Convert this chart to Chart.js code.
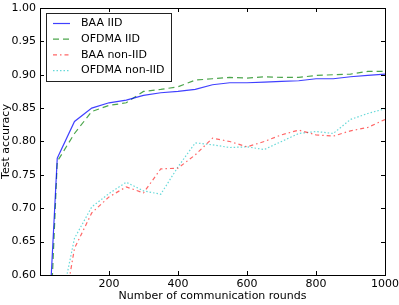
<!DOCTYPE html>
<html>
<head>
<meta charset="utf-8">
<script src="https://cdn.jsdelivr.net/npm/chart.js@4.4.1/dist/chart.umd.min.js"></script>
<style>
html, body { margin: 0; padding: 0; background: #fff; }
#wrap { width: 399px; height: 305px; }
</style>
</head>
<body>
<div id="wrap"><canvas id="acc"></canvas></div>
<script>
// communication rounds (x) and test accuracy per scheme
var rounds = [0, 50, 100, 150, 200, 250, 300, 350, 400, 450, 500, 550, 600, 650, 700, 750, 800, 850, 900, 950, 1000];
var baaIid = [0.27, 0.775, 0.83, 0.85, 0.858, 0.862, 0.869, 0.873, 0.875, 0.878, 0.885, 0.888, 0.888, 0.889, 0.890, 0.891, 0.894, 0.894, 0.897, 0.899, 0.901];
var ofdmaIid = [0.16, 0.77, 0.812, 0.845, 0.854, 0.858, 0.875, 0.878, 0.882, 0.892, 0.894, 0.896, 0.895, 0.897, 0.896, 0.896, 0.899, 0.900, 0.901, 0.905, 0.905];
var baaNonIid = [null, 0.49, 0.64, 0.693, 0.717, 0.732, 0.723, 0.759, 0.760, 0.780, 0.805, 0.800, 0.792, 0.800, 0.810, 0.817, 0.810, 0.808, 0.816, 0.821, 0.833];
var ofdmaNonIid = [null, 0.53, 0.655, 0.702, 0.722, 0.739, 0.726, 0.721, 0.762, 0.798, 0.795, 0.791, 0.792, 0.788, 0.800, 0.812, 0.815, 0.812, 0.833, 0.842, 0.849];
var xTicks = [200, 400, 600, 800, 1000];
var yTicks = [0.60, 0.65, 0.70, 0.75, 0.80, 0.85, 0.90, 0.95, 1.00];

var FONT = 'DejaVu Sans';

function pts(ys) {
    return rounds.map(function (r, i) { return { x: r, y: ys[i] }; });
}

var series = [
    { label: 'BAA IID', data: baaIid, color: 'rgba(0, 0, 255, 0.75)', dash: [] },
    { label: 'OFDMA IID', data: ofdmaIid, color: 'rgba(0, 128, 0, 0.7)', dash: [6, 4] },
    { label: 'BAA non-IID', data: baaNonIid, color: 'rgba(255, 0, 0, 0.6)', dash: [4, 3, 1.5, 3] },
    { label: 'OFDMA non-IID', data: ofdmaNonIid, color: 'rgba(0, 191, 191, 0.6)', dash: [1.5, 2] }
];

// frame, inward ticks on all sides, and the boxed legend (matplotlib classic look)
var mplLook = {
    id: 'mplLook',
    afterDraw: function (chart) {
        var ctx = chart.ctx;
        var a = chart.chartArea;
        var xs = chart.scales.x, ys = chart.scales.y;
        ctx.save();
        ctx.strokeStyle = '#000';
        ctx.lineWidth = 1;
        ctx.setLineDash([]);
        ctx.strokeRect(Math.round(a.left) + 0.5, Math.round(a.top) + 0.5,
            Math.round(a.right - a.left), Math.round(a.bottom - a.top));
        ctx.beginPath();
        xTicks.forEach(function (v) {
            var px = Math.round(xs.getPixelForValue(v)) + 0.5;
            ctx.moveTo(px, a.bottom); ctx.lineTo(px, a.bottom - 4);
            ctx.moveTo(px, a.top); ctx.lineTo(px, a.top + 4);
        });
        yTicks.forEach(function (v) {
            var py = Math.round(ys.getPixelForValue(v)) + 0.5;
            ctx.moveTo(a.left, py); ctx.lineTo(a.left + 4, py);
            ctx.moveTo(a.right, py); ctx.lineTo(a.right - 4, py);
        });
        ctx.stroke();

        // legend
        var lx = 46, ly = 13, lw = 125, lh = 68;
        ctx.fillStyle = '#fff';
        ctx.fillRect(lx, ly, lw, lh);
        ctx.strokeStyle = '#222';
        ctx.strokeRect(lx + 0.5, ly + 0.5, lw, lh);
        ctx.font = '11px "' + FONT + '"';
        ctx.textBaseline = 'middle';
        ctx.textAlign = 'left';
        series.forEach(function (s, i) {
            var y = 23.5 + i * 15.7;
            ctx.strokeStyle = s.color;
            ctx.lineWidth = 1.2;
            ctx.setLineDash(s.dash);
            ctx.beginPath();
            ctx.moveTo(53, y); ctx.lineTo(70, y);
            ctx.stroke();
            ctx.fillStyle = '#000';
            ctx.fillText(s.label, 81, y);
        });
        ctx.restore();
    }
};

var chart = new Chart(document.getElementById('acc').getContext('2d'), {
    type: 'line',
    data: {
        datasets: series.map(function (s) {
            return {
                label: s.label,
                data: pts(s.data),
                borderColor: s.color,
                backgroundColor: s.color,
                borderDash: s.dash,
                borderWidth: 1.2,
                pointRadius: 0,
                tension: 0,
                fill: false
            };
        })
    },
    options: {
        responsive: true,
        maintainAspectRatio: false,
        animation: false,
        layout: { padding: { top: 8, right: 14, left: 0, bottom: 0 } },
        plugins: {
            legend: { display: false },
            tooltip: { enabled: false }
        },
        scales: {
            x: {
                type: 'linear',
                min: 0,
                max: 1000,
                afterBuildTicks: function (s) { s.ticks = xTicks.map(function (v) { return { value: v }; }); },
                afterFit: function (s) {
                    s.height = 30;
                    s.paddingLeft = 0; s.paddingRight = 0;
                },
                grid: { display: false, drawTicks: false, tickLength: 0 },
                border: { display: false },
                ticks: {
                    color: '#000',
                    padding: 3,
                    maxRotation: 0,
                    font: { family: FONT, size: 11 },
                    callback: function (v) { return String(v); }
                },
                title: {
                    display: true,
                    text: 'Number of communication rounds',
                    color: '#000',
                    padding: { top: 0, bottom: 2 },
                    font: { family: FONT, size: 11 }
                }
            },
            y: {
                min: 0.6,
                max: 1.0,
                afterBuildTicks: function (s) { s.ticks = yTicks.map(function (v) { return { value: v }; }); },
                afterFit: function (s) {
                    s.width = 40;
                    s.paddingTop = 0; s.paddingBottom = 0;
                },
                grid: { display: false, drawTicks: false, tickLength: 0 },
                border: { display: false },
                ticks: {
                    color: '#000',
                    padding: 4,
                    font: { family: FONT, size: 11 },
                    callback: function (v) { return Number(v).toFixed(2); }
                },
                title: {
                    display: true,
                    text: 'Test accuracy',
                    color: '#000',
                    padding: { top: 0, bottom: 0 },
                    font: { family: FONT, size: 11 }
                }
            }
        }
    },
    plugins: [mplLook]
});
</script>
</body>
</html>
